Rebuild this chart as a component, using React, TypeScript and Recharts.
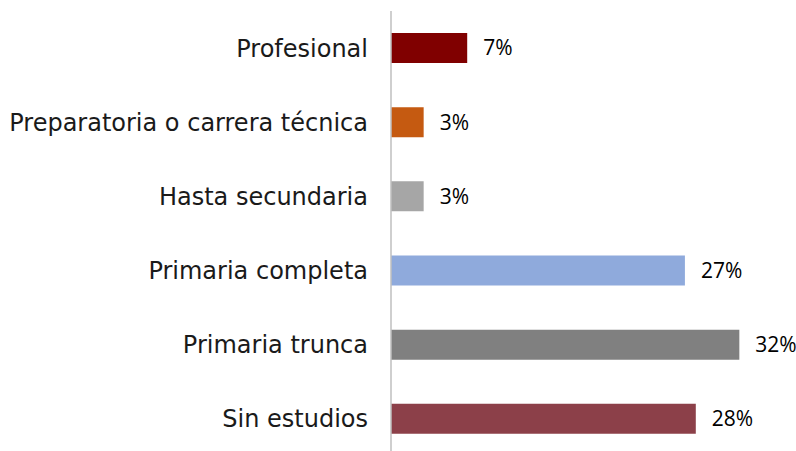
import { BarChart, Bar, XAxis, YAxis, Cell, LabelList } from 'recharts';

// Education level categories, top to bottom
const categories = [
  'Profesional',
  'Preparatoria o carrera técnica',
  'Hasta secundaria',
  'Primaria completa',
  'Primaria trunca',
  'Sin estudios',
];

// Share of respondents (%)
const values = [7, 3, 3, 27, 32, 28];

const COLORS = ['#800000', '#C55A11', '#A6A6A6', '#8FAADC', '#808080', '#8C4049'];

const data = categories.map((name, i) => ({ name, value: values[i] }));

export default function App() {
  return (
    <div style={{ position: 'absolute', left: 0, top: 0, width: 796, height: 451, overflow: 'hidden', background: '#fff' }}>
      <BarChart
        width={796}
        height={460}
        data={data}
        layout="vertical"
        margin={{ top: 11, right: 24, bottom: 4, left: 0 }}
      >
        <XAxis type="number" domain={[0, 35]} hide />
        <YAxis
          type="category"
          dataKey="name"
          width={391}
          tickLine={false}
          tickMargin={17}
          axisLine={{ stroke: '#BFBFBF', strokeWidth: 1.5 }}
          tick={{ fill: '#1a1a1a', fontSize: 24, fontFamily: 'DejaVu Sans' }}
          interval={0}
        />
        <Bar dataKey="value" barSize={30} isAnimationActive={false}>
          {data.map((_d, i) => (
            <Cell key={`cell-${i}`} fill={COLORS[i]} />
          ))}
          <LabelList
            dataKey="value"
            position="right"
            offset={16}
            formatter={(v: any) => `${v}%`}
            style={{ fill: '#000', fontSize: 21, fontFamily: 'Open Sans' }}
          />
        </Bar>
      </BarChart>
    </div>
  );
}
